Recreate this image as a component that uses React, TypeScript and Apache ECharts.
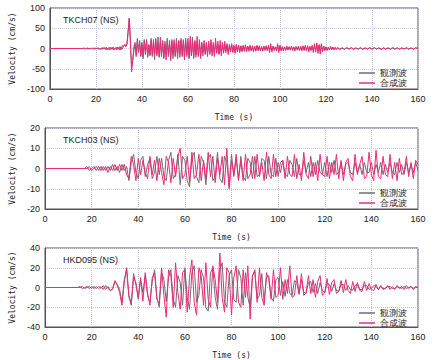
import React, { useEffect, useRef } from "react";
import * as echarts from "echarts";

// ---------- data ----------
const stations = ["TKCH07 (NS)", "TKCH03 (NS)", "HKD095 (NS)"];
const seriesNames = ["観測波", "合成波"];
const yRanges = [
  { min: -100, max: 100, interval: 50 },
  { min: -20, max: 20, interval: 10 },
  { min: -40, max: 40, interval: 20 },
];

// Panel 1: 0.5 s samples from 14 s to 124.5 s, then 1 s samples 125..160 s
const p1ObsA = [
  0,0,1,-1,0,1,-1,0,1,-1,
  1,-2,1,-1,2,-2,1,-2,2,-1,
  2,-3,1,-2,3,-2,2,-3,1,-2,
  3,-2,2,-4,3,-1,6,8,4,10,
  40,75,10,-45,-30,-5,10,-15,25,-10,
  20,-20,15,-25,22,-15,18,-22,10,-18,
  25,-20,15,-28,20,-12,28,-22,15,-20,
  20,-25,18,-15,25,-20,12,-18,22,-25,
  15,-20,25,-15,18,-22,20,-15,22,-18,
  25,-20,15,-25,20,-18,28,-20,15,-22,
  18,-15,12,-18,15,-10,12,-15,10,-12,
  12,-10,15,-12,8,-10,12,-8,10,-12,
  8,-10,12,-8,10,-6,8,-10,6,-8,
  10,-8,6,-10,8,-6,7,-8,5,-6,
  6,-5,7,-6,5,-4,6,-5,4,-6,
  5,-4,6,-5,4,-5,3,-4,5,-3,
  4,-3,5,-4,3,-4,5,-3,4,-5,
  8,-6,5,-4,3,-4,4,-3,2,-3,
  3,-2,4,-3,2,-3,3,-2,3,-4,
  4,-3,3,-4,5,-3,4,-5,3,-4,
  5,-4,6,-5,7,-6,8,-7,10,-8,
  6,-5,4,-3,3,-2,3,-2,2,-3,
  2,-2,
];
const p1ObsB = [
  2,-1,1,-2,1,-1,2,-1,1,-1,
  1,-2,1,-1,1,-1,2,-1,1,-1,
  1,-1,1,-2,1,-1,1,-1,1,-1,
  1,-1,1,-1,1,0,
];
const p1SynA = [
  0,1,-1,0,1,-1,1,-1,0,1,
  -2,2,-1,2,-2,1,-3,2,-2,3,
  -2,3,-3,2,-4,3,-2,4,-3,2,
  -3,4,-2,5,-3,8,5,10,6,12,
  45,75,20,-58,-30,5,15,-20,18,-8,
  15,-18,10,-20,18,-10,22,-18,8,-15,
  20,-15,22,-12,25,-18,12,-20,28,-15,
  18,-22,10,-28,15,-12,20,-30,18,-15,
  22,-18,15,-25,20,-12,25,-20,18,-28,
  20,-15,25,-22,30,-18,15,-25,20,-15,
  30,-20,22,-25,15,-18,20,-12,15,-20,
  18,-15,22,-18,15,-20,25,-12,18,-15,
  20,-18,15,-12,18,-10,12,-15,10,-8,
  12,-10,8,-12,10,-8,9,-10,7,-8,
  8,-7,9,-8,6,-7,8,-6,7,-8,
  6,-7,8,-5,7,-6,5,-7,6,-5,
  7,-6,8,-10,12,-9,6,-5,4,-6,
  12,-10,8,-6,5,-6,4,-5,6,-4,
  5,-4,6,-5,4,-6,5,-4,6,-5,
  5,-6,7,-5,8,-6,7,-8,6,-5,
  8,-10,12,-9,14,-12,10,-14,12,-8,
  6,-5,4,-5,3,-4,5,-3,4,-3,
  3,-2,
];
const p1SynB = [
  2,-3,2,-2,3,-2,2,-3,2,-2,
  3,-2,2,-2,3,-2,2,-2,2,-3,
  2,-2,2,-2,3,-2,2,-2,2,-2,
  3,-2,2,-2,2,0,
];

// Panel 2: 1 s samples from 14 s to 160 s
const p2Obs = [
  0,0,0,0,1,-1,0,1,-1,1,
  -1,1,-1,1,-1,2,-1,1,-2,2,
  -1,1,-6,3,7,-2,-5,4,6,-4,
  2,5,-5,-2,6,-3,5,-4,-6,4,
  8,-5,-3,7,-8,6,4,-6,-9,5,
  8,-4,-7,6,3,-8,5,7,-6,-4,
  8,-5,-7,6,3,-9,7,-4,5,-6,
  6,-4,-6,5,3,-5,6,-4,-3,5,
  4,-5,6,-3,-4,5,-4,3,4,-3,
  -4,4,2,-4,5,-3,-3,4,-2,3,
  -4,3,-3,4,-2,-3,3,-4,3,-2,
  4,-3,-2,3,-3,2,3,-2,-3,3,
  -2,2,-3,3,-2,-2,3,-3,2,-2,
  3,-3,2,-2,3,-2,-3,3,-2,2,
  -3,3,-2,2,-2,3,-1,
];
const p2Syn = [
  0,0,0,0,0,1,-1,0,1,-1,
  1,-1,1,-2,1,-1,2,-1,2,-1,
  2,-3,-5,6,2,-6,5,-3,4,-2,
  -5,6,-3,4,-6,5,-2,-8,6,3,
  -7,5,-4,6,10,-5,-3,6,-7,8,
  -5,-3,7,-6,4,-5,8,-4,6,-7,
  5,-3,6,-8,10,-10,4,-3,7,-5,
  4,-6,7,-5,-3,6,-5,7,-4,3,
  -6,8,-3,-5,7,-4,3,-2,4,-5,
  6,-3,-4,7,-5,2,-6,8,-3,-5,
  6,-4,3,-6,7,-3,-4,6,-5,3,
  -3,7,-5,4,-6,3,5,-4,-6,7,
  -3,2,6,-5,-4,8,-3,-6,9,-4,
  -5,6,-3,-4,7,-5,3,-6,5,-3,
  -2,6,-4,3,-5,4,2,
];

// Panel 3: 1 s samples from 14 s to 160 s
const p3Obs = [
  0,0,1,-1,0,1,-1,1,-1,1,
  -1,2,-2,1,-3,-2,6,3,-2,-15,
  8,18,-10,-18,10,5,-12,8,-5,12,
  -8,-15,6,18,-10,-20,15,8,-14,10,
  18,-12,-20,12,5,-18,20,-10,-22,15,
  22,-15,-8,18,10,-20,-24,15,20,-10,
  -22,18,25,-15,-20,12,18,-12,-15,18,
  10,-18,15,-10,-20,12,16,-12,-8,14,
  -15,10,12,-10,-14,8,10,-8,6,-9,
  8,-6,-8,7,5,-7,8,-5,-6,5,
  6,-5,4,-6,5,-3,-5,4,3,-4,
  4,-3,-4,3,3,-3,2,-2,-3,2,
  3,-2,-2,2,2,-2,-1,2,1,-2,
  1,-1,-1,1,1,-1,-1,1,0,-1,
  1,-1,0,1,-1,0,0,
];
const p3Syn = [
  0,1,-1,0,1,-1,1,-1,1,-1,
  1,-2,2,-1,-3,-1,7,2,-5,-18,
  5,20,-8,-16,14,3,-10,10,-14,15,
  -6,-18,10,15,-12,-16,20,-8,-30,18,
  12,-20,25,-5,-22,15,18,-25,10,28,
  -15,-28,20,12,-18,25,-12,-20,22,8,
  -15,35,-10,-25,20,15,-28,10,22,-15,
  -20,18,-10,22,-32,12,18,-15,20,-10,
  -18,15,8,-12,18,-10,-8,20,-12,8,
  -6,22,-10,-8,12,-6,14,-8,-5,12,
  -6,8,-10,6,12,-8,-5,9,-7,5,
  8,-6,-4,7,-5,8,-3,-6,6,-4,
  5,-3,-4,6,-3,4,-2,-3,3,-2,
  2,-2,-1,2,-2,1,-2,2,-1,1,
  -2,2,-1,1,-2,1,0,
];

// ---------- helpers ----------
const toPairs = (start: number, step: number, vals: number[]) =>
  vals.map((v, i) => [start + i * step, v]);

const panelData = [
  {
    obs: [[0, 0], ...toPairs(14, 0.5, p1ObsA), ...toPairs(125, 1, p1ObsB)],
    syn: [[0, 0], ...toPairs(14, 0.5, p1SynA), ...toPairs(125, 1, p1SynB)],
  },
  { obs: [[0, 0], ...toPairs(14, 1, p2Obs)], syn: [[0, 0], ...toPairs(14, 1, p2Syn)] },
  { obs: [[0, 0], ...toPairs(14, 1, p3Obs)], syn: [[0, 0], ...toPairs(14, 1, p3Syn)] },
];

const GRAY = "#6e6e6e";
const PINK = "#f0287a";
const tops = [8, 128, 248];

export default function App() {
  const ref = useRef<HTMLDivElement>(null);
  useEffect(() => {
    if (!ref.current) return;
    const chart = echarts.init(ref.current, undefined, { renderer: "svg" });
    const grid = tops.map((t) => ({
      left: 43,
      right: 20,
      top: t,
      height: 81,
      show: true,
      borderColor: "#555",
      borderWidth: 1,
      backgroundColor: "#fff",
    }));
    const xAxis = tops.map((_, i) => ({
      type: "value",
      gridIndex: i,
      min: 0,
      max: 160,
      interval: 20,
      name: "Time (s)",
      nameLocation: "middle",
      nameGap: 24,
      nameTextStyle: { fontFamily: "DejaVu Sans Mono", fontSize: 8, color: "#222" },
      axisLine: { show: true, onZero: false, lineStyle: { color: "#555" } },
      axisTick: { show: false },
      axisLabel: { fontSize: 9, color: "#222", margin: 5, fontFamily: "Liberation Sans" },
      splitLine: { show: true, lineStyle: { color: "#c4c4f2", type: "dotted" } },
    }));
    const yAxis = yRanges.map((r, i) => ({
      type: "value",
      gridIndex: i,
      min: r.min,
      max: r.max,
      interval: r.interval,
      name: "Velocity (cm/s)",
      nameLocation: "middle",
      nameGap: 29,
      nameTextStyle: { fontFamily: "DejaVu Sans Mono", fontSize: 8, color: "#222" },
      axisLine: { show: true, lineStyle: { color: "#555" } },
      axisTick: { show: false },
      axisLabel: { fontSize: 9, color: "#222", margin: 5, fontFamily: "Liberation Sans" },
      splitLine: { show: true, lineStyle: { color: "#c4c4f2", type: "dotted" } },
    }));
    const series: any[] = [];
    panelData.forEach((p, i) => {
      series.push({
        name: seriesNames[0],
        type: "line",
        xAxisIndex: i,
        yAxisIndex: i,
        data: p.obs,
        showSymbol: false,
        symbol: "none",
        lineStyle: { color: GRAY, width: 1 },
        itemStyle: { color: GRAY },
      });
      series.push({
        name: seriesNames[1],
        type: "line",
        xAxisIndex: i,
        yAxisIndex: i,
        data: p.syn,
        showSymbol: false,
        symbol: "none",
        lineStyle: { color: PINK, width: 1 },
        itemStyle: { color: PINK },
      });
    });
    const title = stations.map((s, i) => ({
      text: s,
      left: 58,
      top: tops[i] + 2,
      textStyle: { fontSize: 9, fontWeight: "normal", color: "#222", fontFamily: "Liberation Sans" },
    }));
    const legend = tops.map((t) => ({
      data: seriesNames,
      orient: "vertical",
      left: 354,
      top: t + 55,
      icon: "rect",
      itemWidth: 16,
      itemHeight: 1.5,
      itemGap: 0,
      selectedMode: false,
      textStyle: { fontSize: 9, color: "#222", lineHeight: 10, padding: [0, 0, 0, 0] },
    }));
    chart.setOption({
      animation: false,
      backgroundColor: "#fff",
      title,
      legend,
      grid,
      xAxis,
      yAxis,
      series,
    });
    return () => chart.dispose();
  }, []);
  return <div ref={ref} style={{ width: 438, height: 360, position: "absolute", left: 0, top: 0 }} />;
}
